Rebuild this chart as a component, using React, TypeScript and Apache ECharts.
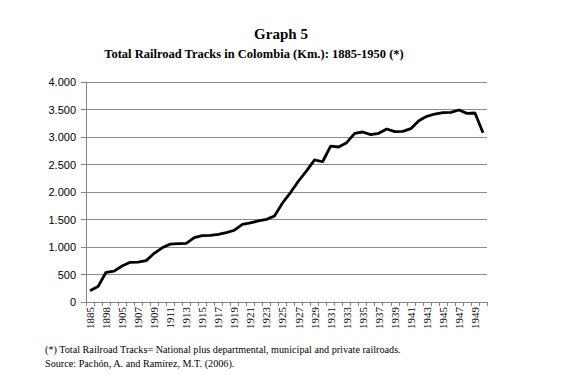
import React, { useEffect, useRef } from "react";
import * as echarts from "echarts";

const years: string[] = [
  "1885", "1890", "1898", "1904", "1905", "1906", "1907", "1908", "1909", "1910",
  "1911", "1912", "1913", "1914", "1915", "1916", "1917", "1918", "1919", "1920",
  "1921", "1922", "1923", "1924", "1925", "1926", "1927", "1928", "1929", "1930",
  "1931", "1932", "1933", "1934", "1935", "1936", "1937", "1938", "1939", "1940",
  "1941", "1942", "1943", "1944", "1945", "1946", "1947", "1948", "1949", "1950",
];

const tracksKm: number[] = [
  205, 280, 540, 560, 655, 722, 725, 752, 885, 985,
  1052, 1062, 1065, 1170, 1208, 1210, 1228, 1260, 1305, 1410,
  1438, 1475, 1502, 1565, 1800, 1990, 2200, 2385, 2585, 2550,
  2836, 2818, 2897, 3067, 3091, 3042, 3067, 3145, 3097, 3103,
  3151, 3297, 3376, 3418, 3442, 3448, 3491, 3430, 3436, 3079,
];

const yTicks = { min: 0, max: 4000, interval: 500 };

const titleText = "Graph 5";
const subtitleText = "Total Railroad Tracks in Colombia (Km.): 1885-1950 (*)";
const note1 = "(*) Total Railroad Tracks= National plus departmental, municipal and private railroads.";
const note2 = "Source: Pachón, A. and Ramírez, M.T. (2006).";

function fmt(v: number): string {
  const s = String(Math.round(v));
  return s.replace(/\B(?=(\d{3})+(?!\d))/g, ".");
}

export default function App() {
  const ref = useRef<HTMLDivElement>(null);
  useEffect(() => {
    if (!ref.current) return;
    const chart = echarts.init(ref.current, null, { renderer: "svg" });
    const serif = "Liberation Serif";
    chart.setOption({
      animation: false,
      backgroundColor: "#ffffff",
      grid: { left: 86, right: 75, top: 82, bottom: 73, containLabel: false },
      graphic: [
        {
          type: "text",
          left: "center",
          top: 26,
          style: { text: titleText, fontFamily: serif, fontWeight: "bold", fontSize: 15, fill: "#000" },
        },
        {
          type: "text",
          x: 254,
          y: 47,
          style: { text: subtitleText, fontFamily: serif, fontWeight: "bold", fontSize: 12.5, fill: "#000", textAlign: "center" },
        },
        {
          type: "text",
          x: 45,
          y: 344,
          style: { text: note1, fontFamily: serif, fontSize: 10.2, fill: "#000" },
        },
        {
          type: "text",
          x: 45,
          y: 358,
          style: { text: note2, fontFamily: serif, fontSize: 10.2, fill: "#000" },
        },
      ],
      xAxis: {
        type: "category",
        data: years,
        boundaryGap: true,
        axisLine: { lineStyle: { color: "#868686", width: 1 } },
        axisTick: { show: true, interval: 0, length: 4, lineStyle: { color: "#868686" } },
        axisLabel: {
          interval: 1,
          rotate: 90,
          fontFamily: serif,
          fontSize: 11,
          color: "#000",
          margin: 5,
        },
      },
      yAxis: {
        type: "value",
        min: yTicks.min,
        max: yTicks.max,
        interval: yTicks.interval,
        axisLine: { show: true, lineStyle: { color: "#868686", width: 1 } },
        axisTick: { show: true, length: 5, lineStyle: { color: "#868686" } },
        splitLine: { show: true, lineStyle: { color: "#8c8c8c", width: 1 } },
        axisLabel: {
          formatter: (v: number) => fmt(v),
          fontFamily: "Liberation Sans",
          fontSize: 11,
          color: "#000",
          margin: 10,
        },
      },
      series: [
        {
          type: "line",
          data: tracksKm,
          symbol: "none",
          lineStyle: { color: "#000", width: 2.8 },
        },
      ],
    });
    return () => chart.dispose();
  }, []);
  return (
    <div
      ref={ref}
      style={{ position: "fixed", left: 0, top: 0, width: 562, height: 375, background: "#fff" }}
    />
  );
}
